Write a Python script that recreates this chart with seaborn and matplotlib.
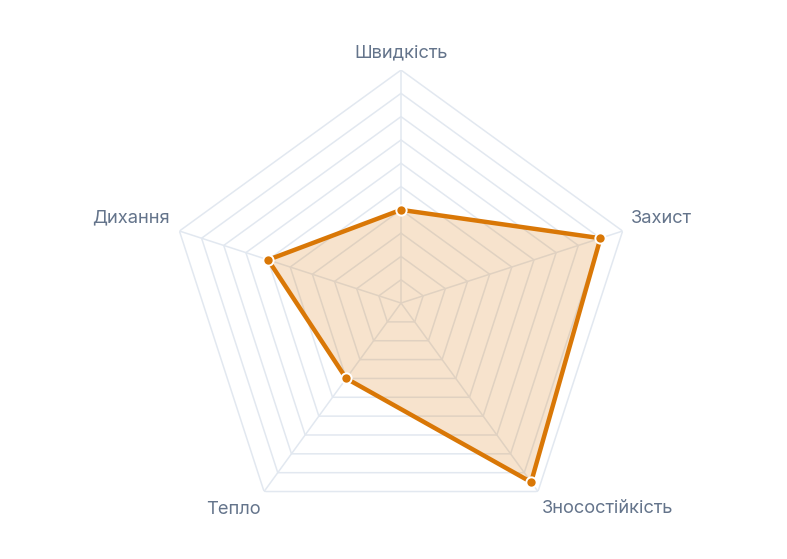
import numpy as np
import pandas as pd
import matplotlib
matplotlib.use("Agg")
import matplotlib.pyplot as plt
import seaborn as sns

# chart data
categories = ["Швидкість", "Захист", "Зносостійкість", "Тепло", "Дихання"]
values = [4, 9, 9.5, 4, 6]
max_value = 10
levels = list(range(1, 11))

sns.set_theme(style="white")
plt.rcParams["font.family"] = ["Inter", "DejaVu Sans"]

LINE = "#d97706"
GRID = "#e2e8f0"
TEXT = "#64748b"

n = len(categories)
# clockwise from the top, last one repeats the first a full turn later
angles = [np.pi / 2 - 2 * np.pi * i / n for i in range(n + 1)]

fig = plt.figure(figsize=(7.87, 5.59), dpi=100)
ax = fig.add_axes([0.2135, 0.0411, 0.5921, 0.8336], projection="polar")
ax.grid(False)
ax.spines["polar"].set_visible(False)
ax.set_facecolor("none")

# polygon grid
for lv in levels:
    ax.plot(angles, [lv] * len(angles), color=GRID, lw=1.1, zorder=1)
for a in angles[:-1]:
    ax.plot([a, a], [0, max_value], color=GRID, lw=1.1, zorder=1)

df = pd.DataFrame({"angle": angles, "value": values + values[:1]})
ax.fill(df["angle"], df["value"], color=LINE, alpha=0.2, lw=0, zorder=2)
sns.lineplot(data=df, x="angle", y="value", sort=False, estimator=None,
             color=LINE, lw=3.2, ax=ax, zorder=3)
sns.scatterplot(data=df.iloc[:-1], x="angle", y="value", color=LINE, s=55,
                edgecolor="white", linewidth=1.4, ax=ax, zorder=4)
ax.set_xlabel("")
ax.set_ylabel("")
ax.set_xticks([])
ax.set_yticks([])
ax.set_ylim(0, max_value)

# category labels
label_pos = [
    (90, 10.75, "center"),
    (20.3, 10.5, "left"),
    (-44.9, 12.5, "center"),
    (231, 11.4, "center"),
    (159.8, 10.56, "right"),
]
for name, (deg, r, ha) in zip(categories, label_pos):
    ax.text(np.deg2rad(deg), r, name, ha=ha, va="center", fontsize=13.2,
            color=TEXT, clip_on=False)

fig.savefig("out.png", dpi=100, facecolor="white")
